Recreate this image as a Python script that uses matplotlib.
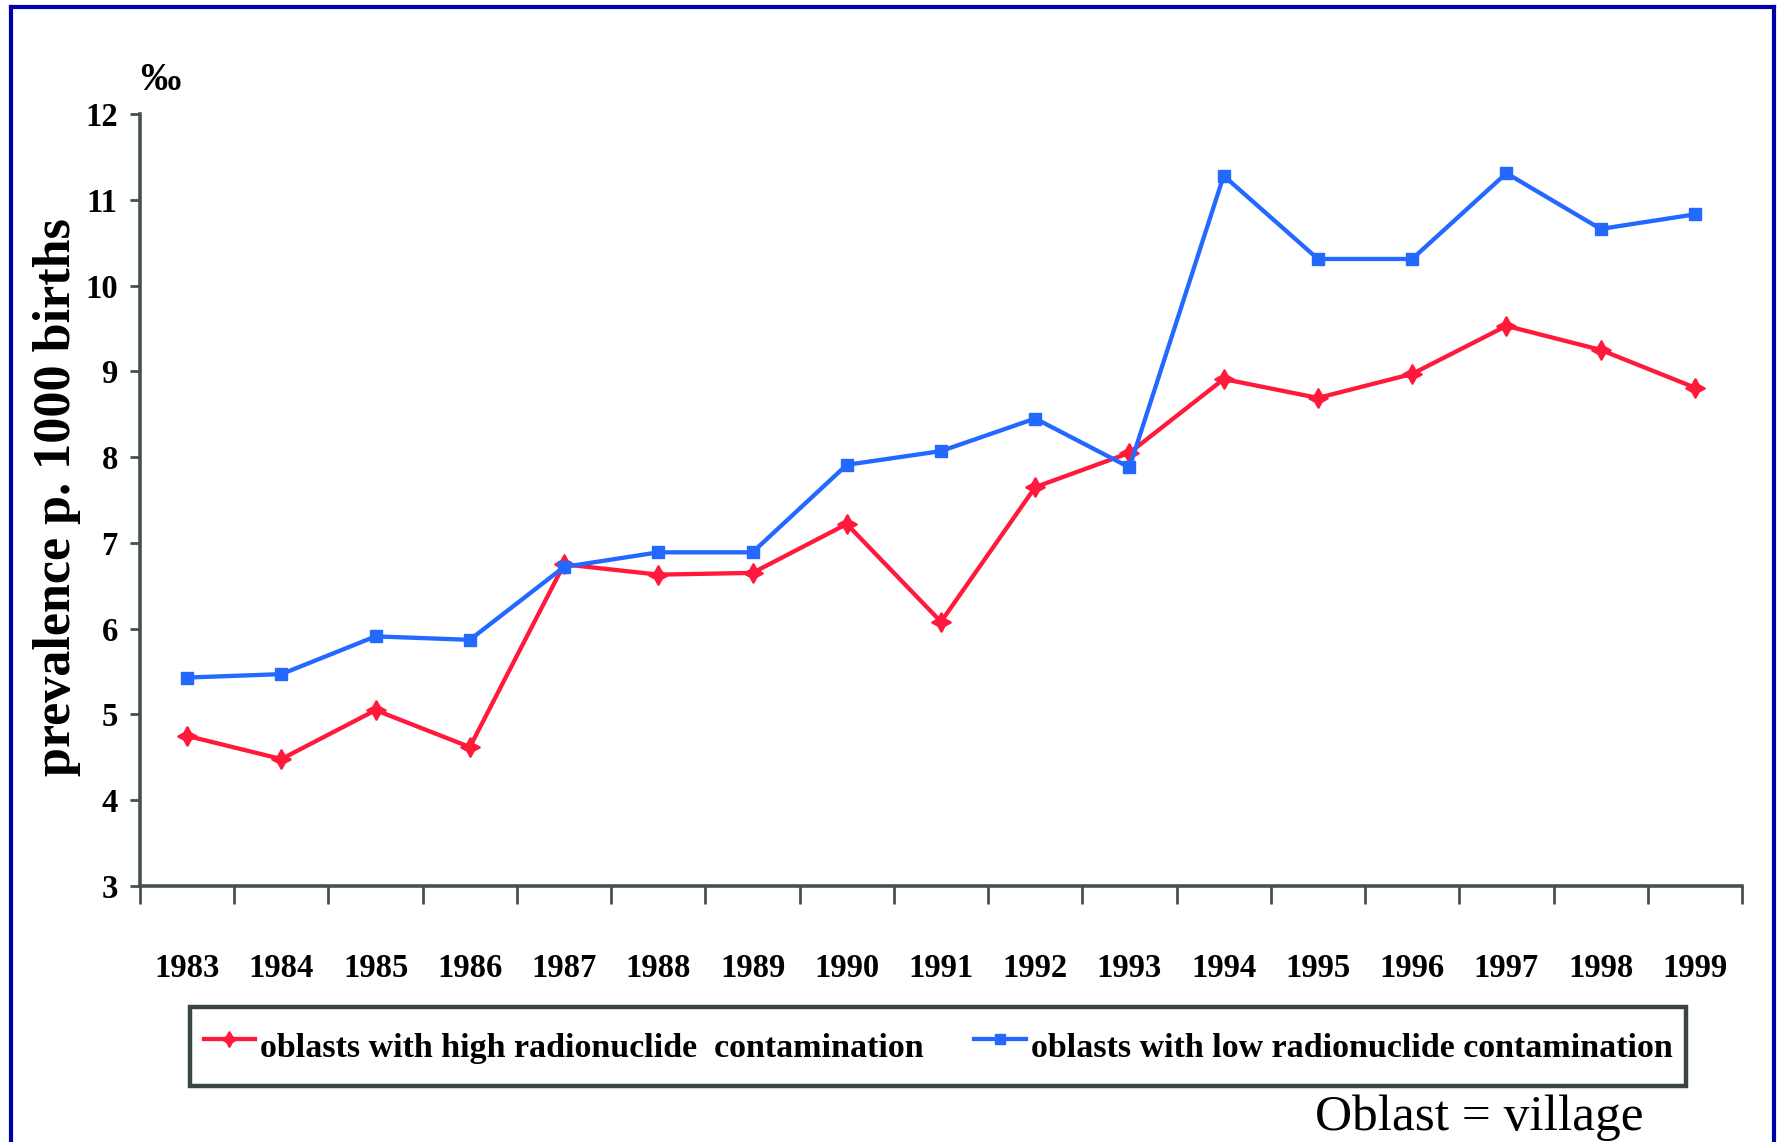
import matplotlib
matplotlib.use("Agg")
import matplotlib.pyplot as plt
from matplotlib.lines import Line2D

# Data: prevalence per 1000 births, by year
years = ["1983", "1984", "1985", "1986", "1987", "1988", "1989", "1990", "1991",
         "1992", "1993", "1994", "1995", "1996", "1997", "1998", "1999"]
high_contamination = [4.75, 4.48, 5.05, 4.62, 6.75, 6.63, 6.65, 7.22, 6.08,
                      7.65, 8.05, 8.91, 8.69, 8.97, 9.53, 9.25, 8.81]
low_contamination = [5.43, 5.47, 5.91, 5.87, 6.72, 6.89, 6.89, 7.91, 8.07,
                     8.45, 7.88, 11.28, 10.31, 10.31, 11.31, 10.66, 10.83]
y_ticks = [3, 4, 5, 6, 7, 8, 9, 10, 11, 12]
label_high = "oblasts with high radionuclide  contamination"
label_low = "oblasts with low radionuclide contamination"

W, H = 1783, 1142
fig = plt.figure(figsize=(W / 100, H / 100), dpi=100)
fig.patch.set_facecolor("white")

SERIF = ["Liberation Serif", "DejaVu Serif"]
AXIS_GREY = "#465050"
RED = "#ff1a3c"
BLUE = "#2469ff"


def px(x, y):
    """Pixel position (from top-left) to figure fraction."""
    return x / W, 1 - y / H


# Plot area
x0, y_top = px(140, 114)
x1, y_bot = px(1742, 886)
ax = fig.add_axes([x0, y_bot, x1 - x0, y_top - y_bot])

xs = list(range(len(years)))
ax.plot(xs, high_contamination, color=RED, lw=3.1,
        marker=(4, 1, 0), markersize=14, markeredgewidth=1.3,
        markeredgecolor=RED, markerfacecolor=RED, label=label_high)
ax.plot(xs, low_contamination, color=BLUE, lw=3.1,
        marker="s", markersize=8.5, markeredgecolor=BLUE,
        markerfacecolor=BLUE, label=label_low)

ax.set_xlim(-0.5, len(years) - 0.5)
ax.set_ylim(3, 12)

for side in ("top", "right"):
    ax.spines[side].set_visible(False)
for side in ("left", "bottom"):
    ax.spines[side].set_color(AXIS_GREY)
    ax.spines[side].set_linewidth(2.6)

ax.set_yticks(y_ticks)
ax.set_yticklabels([str(v) for v in y_ticks], fontfamily=SERIF,
                   fontweight="bold", fontsize=23.5)
ax.tick_params(axis="y", direction="out", length=7, width=2,
               color=AXIS_GREY, pad=9)

ax.set_xticks(xs)
ax.set_xticklabels(years, fontfamily=SERIF, fontweight="bold", fontsize=23.5)
ax.set_xticks([i - 0.5 for i in range(len(years) + 1)], minor=True)
ax.tick_params(axis="x", which="major", length=0, pad=48)
ax.tick_params(axis="x", which="minor", direction="out", length=13,
               width=2, color=AXIS_GREY)

# Axis titles
lx, ly = px(70, 497)
fig.text(lx, ly, "prevalence p. 1000 births", rotation=90,
         rotation_mode="anchor", ha="center", va="baseline",
         fontfamily=SERIF, fontweight="bold", fontsize=37.5)
ux, uy = px(160, 80)
fig.text(ux, uy, "‰", ha="center", va="center", fontfamily=SERIF,
         fontweight="bold", fontsize=29)

# Legend box below the axis
lgx0, lgy1 = px(190, 1000)
lgx1, lgy0 = px(1686, 1093)
leg = ax.legend(loc="center", bbox_to_anchor=(lgx0, lgy0, lgx1 - lgx0, lgy1 - lgy0),
                bbox_transform=fig.transFigure, mode="expand", ncol=2,
                prop={"family": SERIF, "weight": "bold", "size": 24.5},
                handlelength=1.5, handletextpad=0.15, borderpad=0.4,
                handleheight=1.95, borderaxespad=0, columnspacing=0.6,
                fancybox=False, framealpha=1, markerscale=0.8)
leg.get_frame().set_edgecolor("#3a4444")
leg.get_frame().set_linewidth(3.2)

# Footnote
nx, ny = px(1315, 1130)
fig.text(nx, ny, "Oblast = village", ha="left", va="baseline",
         fontfamily=SERIF, fontsize=37)

# Blue frame on the left, top and right edges
frame_color = "#0000aa"
for xa, ya in (([11.5, 11.5], [H, 7]), ([11.5, 1774.5], [7, 7]),
               ([1774.5, 1774.5], [7, H])):
    fx = [v / W for v in xa]
    fy = [1 - v / H for v in ya]
    fig.add_artist(Line2D(fx, fy, transform=fig.transFigure,
                          color=frame_color, lw=3, solid_capstyle="projecting"))

fig.savefig("out.png", dpi=100, facecolor="white")
